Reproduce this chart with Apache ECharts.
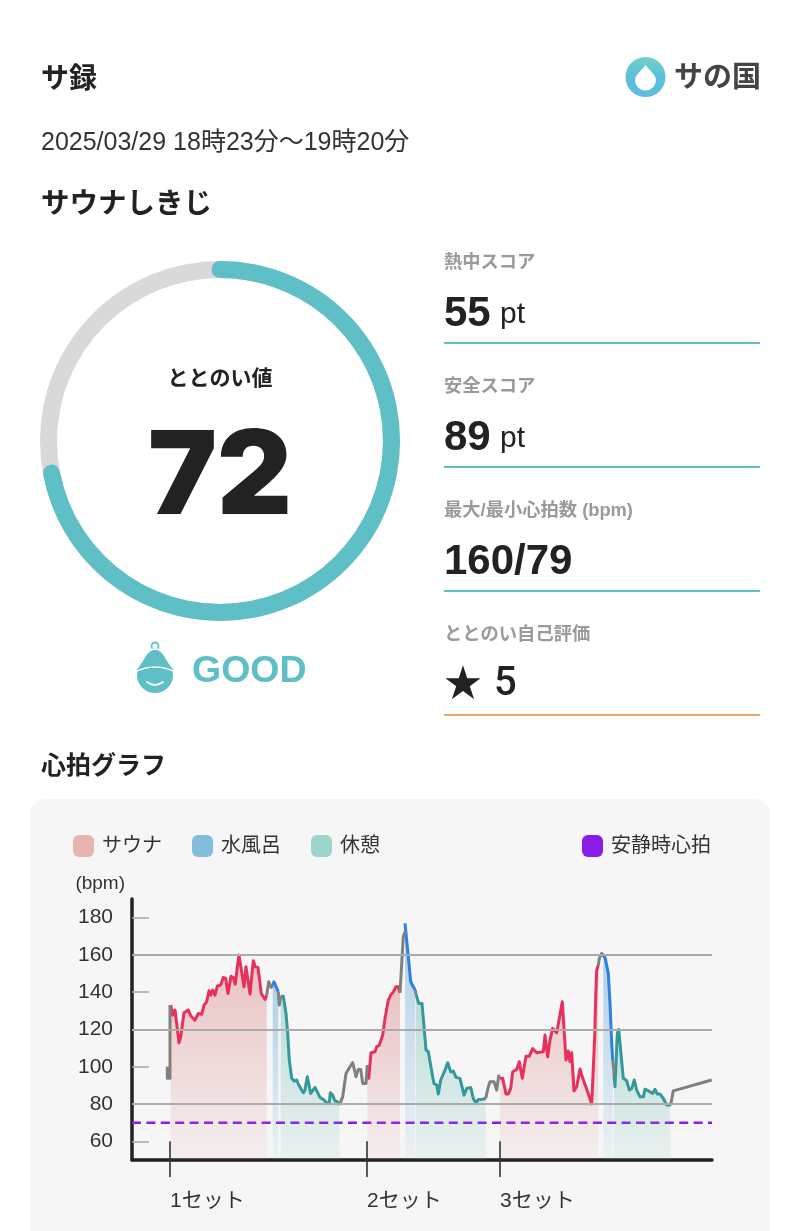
<!DOCTYPE html>
<html>
<head>
<meta charset="utf-8">
<title>サ録</title>
<style>
html,body{margin:0;padding:0;background:#fff;}
#chart{width:800px;height:1231px;}
</style>
<script src="https://cdn.jsdelivr.net/npm/echarts@6/dist/echarts.min.js"></script>
</head>
<body>
<div id="chart"></div>
<script>
// x = minutes since the session start, y = bpm
var sauna1 = [[3.87,133.1],[4.07,127.7],[4.30,130.4],[4.47,130.8],[4.70,112.9],[4.87,116.1],[5.20,129],[5.63,130.4],[5.87,127.4],[6.07,127.2],[6.30,125],[6.63,128.6],[6.97,128.1],[7.20,133.1],[7.47,134.9],[7.70,140.8],[7.87,138.4],[8.07,141.1],[8.30,138.4],[8.53,143.3],[8.87,143.8],[9.13,147.9],[9.37,147.4],[9.60,139.3],[9.90,148.6],[10.13,147.9],[10.33,144.3],[10.53,153.6],[10.70,159.9],[10.90,159.4],[11.20,142.9],[11.40,153.6],[11.53,152.7],[11.80,139],[12.13,156.9],[12.33,153.6],[12.60,153.3],[12.93,139.3],[13.30,136.1],[13.47,138.4]];
var sauna2 = [[23.53,100.9],[23.67,93.8],[23.9,107.5],[24.3,108.1],[24.47,110.7],[24.73,111.6],[25.07,117],[25.3,125.9],[25.63,135.8],[25.87,138.4],[26.13,140.2],[26.4,142.9],[26.63,142.9],[26.8,139.7]];
var sauna3 = [[36.8,93.8],[37.07,93.8],[37.4,85.4],[37.63,85.4],[37.87,88.4],[38.07,97.3],[38.47,98.6],[38.73,102.7],[39.03,93.8],[39.4,105.7],[39.73,105.7],[40.07,109.8],[40.47,107.5],[41.13,108.1],[41.3,117],[41.57,105.4],[41.8,114.3],[42.07,120.6],[42.47,118.2],[42.7,125],[43.03,134.9],[43.13,134.9],[43.4,103.6],[43.63,108.4],[43.8,102.7],[43.97,107.5],[44.2,87.1],[44.47,89.3],[44.8,98.8],[45.07,93.8],[45.2,93.8],[45.47,87.9],[45.63,87.9],[45.97,80],[46.13,80],[46.27,116.1],[46.37,137.6],[46.47,151.8],[46.63,154.5]];

var water1 = [[14.07,143.8],[14.20,145.6],[14.40,145.6],[14.63,140.2]];
var water2 = [[27.3,176.9],[27.43,176.9],[27.63,159],[27.87,145.6],[28.13,142.9],[28.33,141.1]];
var water3 = [[47.13,159.9],[47.33,158.1],[47.63,150.1],[47.8,134],[47.97,112.5],[48.07,103.6]];

var rest1 = [[14.87,137.9],[15.13,137.9],[15.40,128.6],[15.57,117.9],[15.73,103.6],[15.97,93.8],[16.23,92.3],[16.47,92.9],[16.67,90.2],[16.87,91.1],[17.13,86.1],[17.30,87.5],[17.53,94.7],[17.87,85.7],[18.03,85.4],[18.30,88.9],[18.47,88.4],[18.80,83.6],[19.13,82.5],[19.47,80.7],[19.73,80.4],[19.83,86.1],[20.07,84.8],[20.27,81.8],[20.53,81.3],[20.73,79.5]];
var rest2 = [[28.4,139],[28.67,134],[29,134],[29.2,121.5],[29.4,109],[29.63,108.1],[30.07,94.7],[30.2,91.1],[30.47,90.2],[30.63,85.4],[30.87,92.9],[31.3,98.2],[31.57,102.2],[31.87,97.3],[32.13,97.7],[32.4,94.3],[32.8,93.8],[33.2,84.8],[33.47,88.4],[33.87,88.9],[34.13,83],[34.4,80.4],[34.63,82.5],[34.97,82.5],[35.37,83]];
var rest3 = [[48.2,95.5],[48.3,89.3],[48.53,117.9],[48.67,120],[48.8,112.5],[49.13,93.8],[49.47,92.5],[49.73,87.5],[49.97,88.4],[50.23,92.9],[50.47,87.5],[50.8,83.9],[51.13,83.9],[51.3,88],[51.63,87.1],[52.07,85.7],[52.3,87.9],[52.53,85.4],[52.8,85.4],[53.13,83],[53.47,79.5],[53.8,79.5],[53.9,80.4]];

// the grey stretches between the phases
var other1 = [[3.53,100],[3.53,93.8],[3.80,93.8],[3.80,133.1],[3.87,133.1]];
var other2 = [[13.47,138.4],[13.67,145.6],[13.93,142.6],[14.07,143.8]];
var other3 = [[14.63,140.2],[14.73,133.1],[14.87,137.9]];
var other4 = [[20.73,79.5],[20.8,79.5],[21.07,83.9],[21.4,96.4],[21.8,100],[22.07,102.2],[22.23,101.8],[22.4,94.7],[22.63,98.6],[22.87,98.6],[23.07,91.1],[23.4,91.1],[23.53,100.9]];
var other5 = [[26.8,139.7],[26.97,139.3],[27.13,169.7],[27.3,172.4]];
var other6 = [[28.33,141.1],[28.4,139]];
var other7 = [[35.37,83],[35.63,89.3],[35.8,92],[36.2,92],[36.47,87.5],[36.67,95],[36.8,94.7]];
var other8 = [[46.63,154.5],[46.73,158.1],[46.97,160.8],[47.13,160.8],[47.13,159.9]];
var other9 = [[48.07,103.6],[48.2,97.3],[48.2,95.5]];
var other10 = [[53.9,80.4],[54.13,87.1],[57.97,92.9]];

var restingBpm = [[0,70],[58,70]];
var gridValues = [80,120,160];
var yTicks = [60,80,100,120,140,160,180];
var setMinutes = [3.8,23.5,36.8];
var setLabels = ["1セット","2セット","3セット"];

var totonoi = 72;
var scoreLabels = ["熱中スコア","安全スコア","最大/最小心拍数 (bpm)","ととのい自己評価"];
var scoreValues = ["55","89","160/79","5"];

var FONT = '"Liberation Sans","Noto Sans CJK JP",sans-serif';
var NUM_FONT = 'Roboto,"Liberation Sans",sans-serif';
var TEAL = "#5fbfc7";
var INK = "#222222";
var SWATCH = "path://M6 0H15A6 6 0 0 1 21 6V16A6 6 0 0 1 15 22H6A6 6 0 0 1 0 16V6A6 6 0 0 1 6 0Z";

// graphic component has no plain "path" type, so register the icon shapes
echarts.graphic.registerShape("logo_drop", echarts.graphic.extendPath("M645.5 65C650 71 656 75 656 80A10.5 10.5 0 0 1 635 80C635 75 641 71 645.5 65Z"));
echarts.graphic.registerShape("badge_hat", echarts.graphic.extendPath("M132.5 673C136 670 139 666 144 658C147 652 151 649 155 649C159 649 163 652 166 658C171 666 174 670 177.5 673Q155 661 132.5 673Z"));
echarts.graphic.registerShape("badge_smile", echarts.graphic.extendPath("M147 682Q155 688 163 682"));

function phase_series(name, data, lineColor, topColor, bottomColor)
{
    return {
        type: "line", name: name, data: data, showSymbol: false, silent: true, z: 3,
        lineStyle: {color: lineColor, width: 3, join: "round"},
        itemStyle: {color: lineColor},
        areaStyle: {
            origin: "start",
            color: {type: "linear", x: 0, y: 0, x2: 0, y2: 1, colorStops: [
                {offset: 0, color: topColor}, {offset: 1, color: bottomColor}]}
        }
    };
}

function other_series(data)
{
    return {
        type: "line", name: "その他", data: data, showSymbol: false, silent: true, z: 4,
        lineStyle: {color: "#808080", width: 3, join: "round"}
    };
}

function text_item(text, x, y, size, weight, color, family)
{
    return {
        type: "text", silent: true, z: 5,
        style: {text: text, x: x, y: y, fill: color, verticalAlign: "middle",
            font: weight + " " + size + "px " + (family || FONT)}
    };
}

var series_list = [];
[sauna1, sauna2, sauna3].forEach(function (d) {
    series_list.push(phase_series("サウナ", d, "#e8305c", "rgba(215,110,110,0.55)", "rgba(215,110,110,0.08)"));
});
[water1, water2, water3].forEach(function (d) {
    series_list.push(phase_series("水風呂", d, "#2f80e0", "rgba(80,160,210,0.62)", "rgba(80,160,210,0.08)"));
});
[rest1, rest2, rest3].forEach(function (d) {
    series_list.push(phase_series("休憩", d, "#35989a", "rgba(75,175,160,0.5)", "rgba(75,175,160,0.1)"));
});
[other1, other2, other3, other4, other5, other6, other7, other8, other9, other10].forEach(function (d) {
    series_list.push(other_series(d));
});

// resting line, horizontal rules and the upper half of the set ticks
series_list.push({
    type: "line", name: "安静時心拍", data: restingBpm, showSymbol: false, silent: true, z: 2,
    lineStyle: {color: "#8a1ce8", width: 2.4, type: [9, 5.4]},
    itemStyle: {color: "#8a1ce8"},
    markLine: {
        silent: true, symbol: "none", animation: false, label: {show: false},
        data: gridValues.map(function (v) {
            return {yAxis: v, lineStyle: {color: "#ababab", width: 2, type: "solid"}};
        }).concat(setMinutes.map(function (m) {
            return [{coord: [m, 50], lineStyle: {color: "#333333", width: 1.6, type: "solid"}}, {coord: [m, 60]}];
        }))
    }
});

// gauge carries the ring and its two centre texts
series_list.push({
    type: "gauge", center: [220, 441], radius: 180, startAngle: 90, endAngle: -270,
    min: 0, max: 100, silent: true,
    axisLine: {roundCap: false, lineStyle: {width: 17, color: [[1, "#d9d9d9"]]}},
    progress: {show: true, width: 17, roundCap: true, itemStyle: {color: TEAL}},
    pointer: {show: false}, axisTick: {show: false}, splitLine: {show: false}, axisLabel: {show: false},
    title: {offsetCenter: [0, -62], fontFamily: FONT, fontSize: 21, fontWeight: "bold", color: INK},
    detail: {offsetCenter: [0, 38], fontFamily: "Inter", fontSize: 116, fontWeight: 900, color: INK, formatter: "{value}"},
    data: [{value: totonoi, name: "ととのい値"}]
});

var graphics = [
    // chart card
    {type: "rect", silent: true, z: -1, shape: {x: 30, y: 799, width: 740, height: 460, r: 16}, style: {fill: "#f6f6f6"}},

    text_item("サ録", 41, 80, 28, "bold", INK),
    text_item("2025/03/29 18時23分〜19時20分", 41, 143, 25, "normal", "#333333"),
    text_item("サウナしきじ", 41, 205, 28.5, "bold", INK),
    text_item("心拍グラフ", 41, 767, 25, "bold", INK),

    // logo
    {type: "circle", silent: true, z: 5, shape: {cx: 645.5, cy: 77, r: 20},
        style: {fill: {type: "linear", x: 0, y: 0, x2: 0, y2: 1, colorStops: [
            {offset: 0, color: "#72d2c4"}, {offset: 0.5, color: "#5cc0dc"}, {offset: 1, color: "#5cbde2"}]}}},
    {type: "logo_drop", silent: true, z: 6, style: {fill: "#ffffff"}},
    text_item("サの国", 674, 79, 29, "bold", "#444444"),

    // GOOD badge
    {type: "circle", silent: true, z: 5, shape: {cx: 155, cy: 646, r: 3.5}, style: {fill: "none", stroke: TEAL, lineWidth: 1.8}},
    {type: "circle", silent: true, z: 5, shape: {cx: 155, cy: 675, r: 18}, style: {fill: TEAL}},
    {type: "badge_hat", silent: true, z: 6, style: {fill: TEAL, stroke: "#ffffff", lineWidth: 1.5}},
    {type: "badge_smile", silent: true, z: 6, style: {fill: "none", stroke: "#ffffff", lineWidth: 1.8, lineCap: "round"}},
    text_item("GOOD", 192, 672, 37.5, "bold", TEAL)
];

// score column, one block every 124px
var ruleColors = [TEAL, TEAL, TEAL, "#e8a763"];
scoreLabels.forEach(function (label, i) {
    var top = 124 * i;
    graphics.push(text_item(label, 444, 263 + top, 18.3, "bold", "#9a9a9a"));
    if (i < 3) {
        graphics.push(text_item(scoreValues[i], 444, 314 + top, 42, "bold", INK));
    }
    graphics.push({type: "rect", silent: true, z: 5, shape: {x: 444, y: 342 + top, width: 316, height: 2}, style: {fill: ruleColors[i]}});
});
graphics.push(text_item("pt", 500, 315, 30, "normal", INK));
graphics.push(text_item("pt", 500, 439, 30, "normal", INK));
graphics.push(text_item("★", 444, 686, 38, "normal", INK));
graphics.push(text_item(scoreValues[3], 494, 685, 40, 500, INK, NUM_FONT));

var legend_text = {fontFamily: FONT, fontSize: 20, color: "#333333", padding: [3, 0, 0, 3]};

var option = {
    animation: false,
    backgroundColor: "#ffffff",
    graphic: {elements: graphics},
    legend: [
        {
            left: 73, top: 835, padding: 0, itemWidth: 21, itemHeight: 22, itemGap: 30, selectedMode: false,
            textStyle: legend_text,
            data: [
                {name: "サウナ", icon: SWATCH, itemStyle: {color: "#e8b4b0"}},
                {name: "水風呂", icon: SWATCH, itemStyle: {color: "#82bddc"}},
                {name: "休憩", icon: SWATCH, itemStyle: {color: "#9bd6cc"}}
            ]
        },
        {
            left: 582, top: 835, padding: 0, itemWidth: 21, itemHeight: 22, selectedMode: false,
            textStyle: legend_text,
            data: [{name: "安静時心拍", icon: SWATCH, itemStyle: {color: "#8a1ce8"}, lineStyle: {width: 0}}]
        }
    ],
    grid: {left: 132, right: 88, top: 899, bottom: 71},
    xAxis: {
        type: "value", min: 0, max: 58, splitLine: {show: false},
        axisLine: {lineStyle: {color: INK, width: 3.5}, onZero: false},
        axisTick: {length: 17, customValues: setMinutes, lineStyle: {color: "#333333", width: 1.6}},
        axisLabel: {
            customValues: setMinutes, margin: 31, align: "left", fontFamily: FONT, fontSize: 21, color: "#333333",
            formatter: function (v) { return setLabels[setMinutes.indexOf(v)]; }
        }
    },
    yAxis: {
        type: "value", min: 50, max: 190, splitLine: {show: false},
        name: "(bpm)", nameLocation: "end", nameGap: 6,
        nameTextStyle: {fontFamily: FONT, fontSize: 19, color: "#333333", align: "right", padding: [0, 7, 0, 0]},
        axisLine: {show: true, lineStyle: {color: INK, width: 3.5}, onZero: false},
        axisTick: {inside: true, length: 17, customValues: yTicks, lineStyle: {color: "#ababab", width: 1.6}},
        axisLabel: {customValues: yTicks, margin: 19, fontFamily: FONT, fontSize: 21, color: "#333333"}
    },
    series: series_list
};

var my_chart = echarts.init(document.getElementById("chart"), null, {renderer: "canvas"});
my_chart.setOption(option);
</script>
</body>
</html>
